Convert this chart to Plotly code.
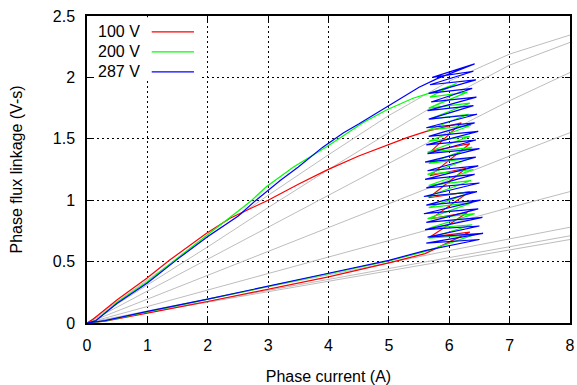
import plotly.graph_objects as go

# ---------------- data ----------------
# Gray magnetisation curves (fixed rotor positions): current (A) and flux linkage (V-s)
gray_current = [0, 1, 2, 3, 4, 5, 6, 7, 8]
gray_flux_1 = [0, 0.35, 0.70, 1.04, 1.37, 1.69, 1.97, 2.19, 2.345]
gray_flux_2 = [0, 0.31, 0.62, 0.94, 1.25, 1.55, 1.84, 2.10, 2.285]
gray_flux_3 = [0, 0.26, 0.52, 0.78, 1.04, 1.30, 1.56, 1.81, 2.04]
gray_flux_4 = [0, 0.195, 0.39, 0.585, 0.78, 0.97, 1.17, 1.36, 1.55]
gray_flux_5 = [0, 0.135, 0.27, 0.405, 0.54, 0.675, 0.81, 0.94, 1.07]
gray_flux_6 = [0, 0.097, 0.195, 0.29, 0.39, 0.49, 0.59, 0.685, 0.78]
gray_flux_7 = [0, 0.089, 0.178, 0.267, 0.355, 0.445, 0.535, 0.62, 0.71]
gray_flux_8 = [0, 0.085, 0.17, 0.255, 0.34, 0.425, 0.51, 0.595, 0.68]
gray_fluxes = [gray_flux_1, gray_flux_2, gray_flux_3, gray_flux_4,
               gray_flux_5, gray_flux_6, gray_flux_7, gray_flux_8]

# 100 V trajectory
v100_current = [0, 0.1, 0.5, 0.99, 1.37, 1.98, 2.37, 3.0, 3.5, 3.97, 4.5, 4.96, 5.3, 5.62, 6.20,
                5.70, 6.34, 5.68, 6.28, 5.66, 6.34, 5.70, 6.30, 5.68, 6.34,
                5.60, 5.0, 4.0, 3.0, 2.0, 1.0, 0.3, 0]
v100_flux = [0, 0.03, 0.19, 0.364, 0.513, 0.73, 0.853, 1.0, 1.13, 1.245, 1.36, 1.45, 1.51, 1.56, 1.63,
             1.40, 1.46, 1.20, 1.26, 1.02, 1.07, 0.85, 0.90, 0.70, 0.74,
             0.565, 0.49, 0.375, 0.272, 0.175, 0.08, 0.015, 0]

# 200 V trajectory
v200_current = [0, 0.15, 0.5, 1.0, 1.5, 2.0, 2.5, 2.73, 2.97, 3.42, 3.97, 4.57, 4.96, 5.4, 5.8, 6.12,
                5.68, 6.30, 5.66, 6.34, 5.68, 6.32, 5.64, 6.36, 5.66, 6.34, 5.64, 6.38,
                5.66, 6.34, 5.64, 6.40, 5.66, 6.36, 5.64, 6.40, 5.66, 6.38, 5.64, 6.42,
                5.66, 6.38, 5.66, 6.42,
                5.62, 5.0, 4.0, 3.0, 2.0, 1.0, 0.3, 0]
v200_flux = [0, 0.02, 0.17, 0.336, 0.53, 0.717, 0.91, 1.0, 1.11, 1.27, 1.435, 1.63, 1.735, 1.83, 1.89, 1.95,
             1.84, 1.88, 1.75, 1.79, 1.66, 1.70, 1.57, 1.61, 1.48, 1.52, 1.39, 1.43,
             1.30, 1.34, 1.21, 1.25, 1.12, 1.16, 1.03, 1.07, 0.94, 0.98, 0.85, 0.89,
             0.77, 0.80, 0.69, 0.72,
             0.585, 0.505, 0.40, 0.295, 0.19, 0.09, 0.018, 0]

# 287 V trajectory
v287_current = [0, 0.15, 0.5, 1.0, 1.5, 2.0, 2.5, 2.8, 3.2, 3.5, 3.9, 4.25, 4.5, 5.0, 5.5, 5.8, 6.1, 6.42,
                5.72, 6.40, 5.68, 6.44, 5.66, 6.38, 5.70, 6.45, 5.64, 6.40, 5.66, 6.46,
                5.62, 6.42, 5.66, 6.48, 5.62, 6.44, 5.64, 6.50, 5.60, 6.44, 5.64, 6.48,
                5.60, 6.42, 5.62, 6.50, 5.58, 6.46, 5.62, 6.52, 5.58, 6.48, 5.62, 6.55,
                5.60, 6.50, 5.64, 6.56, 5.62, 6.50,
                5.60, 5.0, 4.0, 3.0, 2.0, 1.0, 0.3, 0]
v287_flux = [0, 0.02, 0.16, 0.325, 0.52, 0.705, 0.87, 1.0, 1.16, 1.27, 1.43, 1.55, 1.62, 1.77, 1.92, 1.99, 2.05, 2.11,
             2.00, 2.05, 1.94, 1.98, 1.87, 1.91, 1.80, 1.84, 1.73, 1.77, 1.66, 1.70,
             1.59, 1.63, 1.52, 1.56, 1.45, 1.49, 1.38, 1.42, 1.31, 1.35, 1.24, 1.28,
             1.17, 1.21, 1.10, 1.14, 1.03, 1.07, 0.96, 1.00, 0.89, 0.93, 0.82, 0.86,
             0.76, 0.79, 0.70, 0.73, 0.65, 0.68,
             0.59, 0.51, 0.405, 0.298, 0.195, 0.094, 0.02, 0]

series_names = ["100 V", "200 V", "287 V"]
x_ticks = [0, 1, 2, 3, 4, 5, 6, 7, 8]
y_ticks = [0, 0.5, 1, 1.5, 2, 2.5]
x_title = "Phase current (A)"
y_title = "Phase flux linkage (V-s)"

# ---------------- figure ----------------
FONT = "Liberation Sans, Arial, Helvetica, sans-serif"
FS = 16
fig = go.Figure()

for gf in gray_fluxes:
    fig.add_trace(go.Scatter(x=gray_current, y=gf, mode="lines",
                             line=dict(color="#bdbdbd", width=1),
                             showlegend=False, hoverinfo="skip"))

series = [(v100_current, v100_flux, "#ff0000"),
          (v200_current, v200_flux, "#00ff00"),
          (v287_current, v287_flux, "#0000ff")]
for (cx, cy, col), name in zip(series, series_names):
    fig.add_trace(go.Scatter(x=cx, y=cy, mode="lines", name=name,
                             line=dict(color=col, width=1.2),
                             showlegend=False))

# opaque key box (gnuplot style)
fig.add_shape(type="rect", xref="paper", yref="paper", x0=0.016, x1=0.234, y0=0.79, y1=0.996,
              fillcolor="white", line=dict(width=0), layer="above")

# gnuplot-style key: text right-aligned, then line sample
key_y = [0.948, 0.883, 0.818]
for (cx, cy, col), name, ky in zip(series, series_names, key_y):
    fig.add_annotation(xref="paper", yref="paper", x=0.113, y=ky,
                       text=name, showarrow=False, xanchor="right", yanchor="middle",
                       font=dict(family=FONT, size=FS, color="#000"))
    fig.add_shape(type="line", xref="paper", yref="paper",
                  x0=0.134, x1=0.2215, y0=ky, y1=ky,
                  line=dict(color=col, width=1.2), layer="above")

axis_common = dict(
    showgrid=True, gridcolor="#000000", gridwidth=1, griddash="2px,3px",
    zeroline=False, showline=True, linecolor="#000000", linewidth=1.5,
    mirror="ticks", ticks="inside", ticklen=5, tickcolor="#000000",
    tickfont=dict(family=FONT, size=FS, color="#000"), automargin=False,
)

fig.update_layout(
    width=577, height=385,
    margin=dict(l=87, r=7, t=16, b=62),
    paper_bgcolor="white", plot_bgcolor="white",
    font=dict(family=FONT, size=FS, color="#000"),
    xaxis=dict(range=[0, 8], tickvals=x_ticks, ticklabelstandoff=7,
               title=dict(text=x_title, standoff=22, font=dict(family=FONT, size=FS)),
               **axis_common),
    yaxis=dict(range=[0, 2.5], tickvals=y_ticks, ticklabelstandoff=7,
               title=dict(text=y_title, standoff=26, font=dict(family=FONT, size=FS)),
               **axis_common),
)

fig.write_html("out.html")
